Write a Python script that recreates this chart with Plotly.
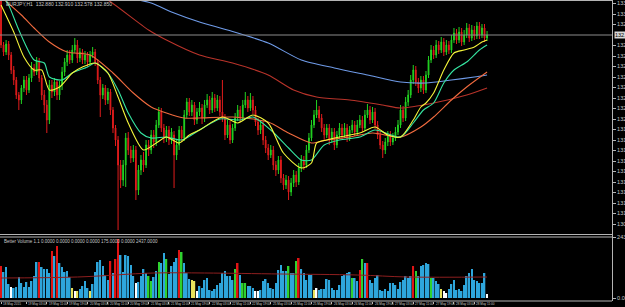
import plotly.graph_objects as go

# ---------------- data ----------------
symbol_title = "EURJPY,H1  132.880 132.910 132.578 132.850"
volume_title = "Better Volume 1.1 0.0000 0.0000 0.0000 0.0000 175.0000 0.0000 2437.0000"

open_ = [133.22,132.75,132.68,132.76,132.65,132.50,132.40,132.25,132.20,132.32,
 132.40,132.30,132.42,132.52,132.48,132.58,132.42,132.25,132.15,132.00,
 132.35,132.28,132.38,132.25,132.35,132.48,132.58,132.65,132.60,132.70,
 132.75,132.62,132.68,132.60,132.65,132.58,132.65,132.68,132.58,132.40,
 132.25,132.32,132.20,132.28,132.10,131.92,131.80,131.55,131.40,131.55,
 131.82,131.70,131.62,131.70,131.30,131.50,131.60,131.55,131.75,131.70,
 131.85,131.78,131.95,132.08,131.92,131.82,131.90,131.80,131.85,131.65,
 131.75,131.90,131.82,132.05,132.18,132.08,132.15,132.00,132.08,132.12,
 132.02,132.15,132.20,132.10,132.22,132.12,132.20,132.08,132.02,131.85,
 131.95,131.80,131.92,132.02,132.10,132.02,132.15,132.20,132.12,132.20,
 132.10,131.98,131.90,131.95,131.80,131.72,131.65,131.70,131.55,131.50,
 131.60,131.42,131.35,131.40,131.28,131.37,131.45,131.38,131.52,131.60,
 131.55,131.70,131.82,131.95,132.05,132.10,132.02,131.92,131.85,131.92,
 131.80,131.88,131.75,131.85,131.92,131.85,131.92,131.82,131.90,131.95,
 131.88,131.95,132.00,131.92,132.05,132.10,132.00,132.08,131.95,131.85,
 131.75,131.70,131.78,131.85,131.78,131.82,131.88,131.95,132.10,132.02,
 132.18,132.25,132.40,132.50,132.38,132.32,132.40,132.30,132.45,132.60,
 132.70,132.65,132.75,132.70,132.78,132.68,132.75,132.70,132.80,132.87,
 132.80,132.88,132.78,132.85,132.92,132.82,132.90,132.84,132.94,132.85,
 132.92,132.82]

close = [132.75,132.68,132.76,132.65,132.50,132.40,132.25,132.20,132.32,132.40,
 132.30,132.42,132.52,132.48,132.58,132.42,132.25,132.15,132.00,132.35,
 132.28,132.38,132.25,132.35,132.48,132.58,132.65,132.60,132.70,132.75,
 132.62,132.68,132.60,132.65,132.58,132.65,132.68,132.58,132.40,132.25,
 132.32,132.20,132.28,132.10,131.92,131.80,131.55,131.40,131.55,131.82,
 131.70,131.62,131.70,131.30,131.50,131.60,131.55,131.75,131.70,131.85,
 131.78,131.95,132.08,131.92,131.82,131.90,131.80,131.88,131.65,131.75,
 131.90,131.82,132.05,132.18,132.08,132.15,132.00,132.08,132.12,132.02,
 132.15,132.20,132.10,132.22,132.12,132.20,132.08,132.02,131.85,131.95,
 131.80,131.92,132.02,132.10,132.02,132.15,132.20,132.12,132.20,132.10,
 131.98,131.90,131.95,131.80,131.72,131.65,131.70,131.55,131.50,131.60,
 131.42,131.35,131.40,131.28,131.37,131.45,131.38,131.52,131.60,131.55,
 131.70,131.82,131.95,132.05,132.10,132.02,131.92,131.85,131.92,131.80,
 131.88,131.75,131.85,131.92,131.85,131.92,131.82,131.90,131.95,131.88,
 131.95,132.00,131.92,132.05,132.10,132.00,132.08,131.95,131.85,131.75,
 131.70,131.78,131.85,131.78,131.82,131.88,131.95,132.10,132.02,132.18,
 132.25,132.40,132.50,132.38,132.32,132.40,132.30,132.45,132.60,132.70,
 132.65,132.75,132.70,132.78,132.68,132.75,132.70,132.80,132.87,132.80,
 132.88,132.78,132.85,132.92,132.82,132.90,132.84,132.94,132.85,132.92,
 132.82,132.85]

high = [133.25,132.78,132.80,132.79,132.68,132.54,132.43,132.28,132.35,132.44,
 132.44,132.46,132.58,132.56,132.63,132.62,132.45,132.30,132.20,132.40,
 132.40,132.42,132.41,132.39,132.53,132.62,132.70,132.70,132.75,132.82,
 132.80,132.72,132.71,132.69,132.68,132.69,132.73,132.71,132.61,132.43,
 132.36,132.35,132.32,132.31,132.13,131.95,131.84,131.60,131.60,131.87,
 131.88,131.74,131.75,131.74,131.55,131.65,131.68,131.80,131.80,131.90,
 131.90,132.00,132.13,132.12,131.96,131.94,131.94,131.92,131.89,131.80,
 131.94,131.94,132.10,132.22,132.22,132.20,132.18,132.12,132.18,132.16,
 132.20,132.26,132.24,132.28,132.26,132.25,132.24,132.40,132.06,132.00,
 131.99,131.96,132.07,132.15,132.14,132.20,132.28,132.24,132.27,132.24,
 132.14,132.02,132.00,131.99,131.84,131.76,131.75,131.74,131.59,131.64,
 131.64,131.46,131.45,131.44,131.42,131.50,131.49,131.57,131.65,131.64,
 131.75,131.87,132.00,132.10,132.20,132.14,132.06,131.96,131.96,131.96,
 131.92,131.92,131.89,131.97,131.96,131.97,131.96,131.94,132.00,131.99,
 132.00,132.05,132.04,132.10,132.16,132.14,132.13,132.12,131.99,131.89,
 131.79,131.82,131.89,131.89,131.87,131.93,132.00,132.15,132.14,132.23,
 132.30,132.45,132.55,132.54,132.42,132.44,132.44,132.49,132.64,132.75,
 132.74,132.80,132.79,132.83,132.82,132.80,132.79,132.85,132.92,132.91,
 132.93,132.92,132.90,132.97,132.96,132.95,132.94,132.98,132.98,132.96,
 132.96,132.89]

low = [132.72,132.64,132.65,132.60,132.46,132.35,132.21,132.10,132.16,132.28,
 132.25,132.27,132.38,132.44,132.45,132.38,132.20,132.07,131.87,131.96,
 132.22,132.24,132.20,132.20,132.30,132.44,132.54,132.56,132.57,132.67,
 132.57,132.58,132.56,132.56,132.53,132.55,132.62,132.54,132.36,132.03,
 132.21,132.15,132.16,132.05,131.87,131.74,130.90,131.32,131.34,131.33,
 131.65,131.57,131.58,131.20,131.25,131.45,131.48,131.52,131.64,131.66,
 131.72,131.74,131.92,131.88,131.77,131.78,131.75,131.76,131.32,131.60,
 131.70,131.78,131.79,132.02,132.04,132.04,131.95,131.96,132.04,131.96,
 131.98,132.12,132.06,132.07,132.08,132.09,132.04,131.98,131.80,131.82,
 131.76,131.77,131.89,131.99,131.98,131.99,132.12,132.08,132.09,132.06,
 131.94,131.85,131.86,131.75,131.67,131.60,131.62,131.50,131.44,131.46,
 131.37,131.30,131.31,131.20,131.24,131.33,131.33,131.35,131.48,131.50,
 131.52,131.67,131.79,131.92,132.02,131.98,131.88,131.80,131.82,131.75,
 131.77,131.70,131.72,131.82,131.81,131.82,131.78,131.79,131.87,131.84,
 131.85,131.92,131.88,131.89,132.02,131.96,131.97,131.91,131.81,131.71,
 131.62,131.66,131.74,131.74,131.75,131.79,131.85,131.92,131.98,131.99,
 132.14,132.22,132.36,132.34,132.27,132.28,132.26,132.27,132.42,132.57,
 132.61,132.62,132.66,132.67,132.64,132.65,132.66,132.67,132.77,132.76,
 132.77,132.74,132.75,132.82,132.78,132.79,132.80,132.81,132.81,132.82,
 132.78,132.79]

# moving averages read at sparse bars (bar index, price)
ma_fast_idx = [0,5,9,13,16,19,23,28,32,37,42,46,50,56,61,65,70,74,78,87,93,99,105,111,118,122,124,128,133,141,147,152,157,162,165,167,170,174,178,182,186,189,191]
ma_fast = [133.15,132.88,132.63,132.50,132.50,132.30,132.33,132.47,132.53,132.57,132.47,132.23,131.97,131.70,131.77,131.83,131.77,131.85,131.90,132.03,131.97,132.05,131.97,131.67,131.52,131.57,131.77,131.80,131.83,131.87,131.93,131.85,131.83,132.00,132.13,132.17,132.27,132.50,132.67,132.70,132.73,132.78,132.80]

ma_mid_idx = [0,3,7,13,17,19,24,28,34,37,42,46,50,55,59,65,71,78,86,94,99,106,113,118,122,127,133,141,147,157,162,166,170,174,178,183,188,191]
ma_mid = [133.28,133.15,132.90,132.60,132.57,132.43,132.40,132.47,132.53,132.57,132.47,132.30,132.07,131.87,131.82,131.83,131.80,131.90,132.01,132.00,132.03,131.90,131.72,131.60,131.60,131.75,131.80,131.83,131.90,131.83,131.97,132.10,132.17,132.37,132.50,132.58,132.70,132.75]

ma_slow_idx = [0,8,13,19,26,35,44,52,59,65,72,78,91,105,113,122,128,137,146,157,165,170,177,183,191]
ma_slow = [133.23,133.05,132.92,132.78,132.68,132.65,132.47,132.27,132.13,132.07,132.02,132.02,132.03,131.98,131.87,131.77,131.80,131.83,131.87,131.83,131.93,132.03,132.20,132.33,132.48]

ma_long_idx = [31,42,58,65,78,91,105,115,124,137,150,157,170,183,191]
ma_long = [133.35,133.20,132.90,132.80,132.65,132.57,132.45,132.30,132.23,132.20,132.15,132.12,132.17,132.25,132.32]

ma_200_idx = [43,59,67,78,89,105,118,131,144,157,167,177,186,191]
ma_200 = [133.25,133.17,133.08,132.98,132.90,132.77,132.60,132.52,132.45,132.38,132.37,132.40,132.43,132.45]

current_price = 132.850

volume = [1280,1040,1240,560,440,400,440,840,600,440,
 640,440,680,880,1440,1440,1240,1160,1160,1000,
 1880,1680,2080,1400,1240,1040,1080,840,400,280,
 280,360,480,680,400,280,560,1040,1440,1520,
 1280,920,720,1480,1000,1560,2360,1720,1040,1720,
 1680,1320,880,600,640,880,1160,1000,880,680,
 840,1080,1440,1400,1800,1560,960,1280,1440,1600,
 1920,1840,1400,1000,760,720,680,280,480,400,
 720,800,320,280,360,520,600,1000,1080,880,
 880,720,1160,1400,920,600,600,480,480,400,
 280,280,320,680,760,600,400,360,600,1120,
 1320,1080,1080,1280,1000,1000,1480,1600,1160,1000,
 720,920,920,320,400,320,360,360,760,720,
 400,320,320,520,880,920,1000,1040,800,800,
 680,1120,1560,1400,1400,720,600,800,920,320,
 280,360,280,600,600,520,360,640,720,880,
 800,880,1280,1080,880,1280,1320,1400,1360,800,
 800,680,560,360,280,200,360,560,720,320,
 360,280,520,880,1000,1160,720,680,600,600,
 1000,160]

# Better Volume bar classes: b=normal, r=climax, g=churn, y=low volume, w=very low
volume_class = ("rbbbwbbbbb" "bbbbbrbbbb" "rbrbbbbbyw" "ybbbbybbbb" "bbbrbrrbbb"
                "bbbwbbbbgg" "bbgbbgbbbb" "rgbbbyywbb" "bbbbbbbbbb" "bbgrbggbbb"
                "wwbbbbbbbb" "bbbgbbgrbb" "bbbywbbbbb" "bbbbbbbbgb" "brgbrbbbbb"
                "bbbbbbbbbb" "bbrgbbbbbg" "bbbywwbbbb" "bbbbbbbbbb" "bw")

vol_avg_idx = [0,30,60,80,110,140,160,191]
vol_avg = [800,840,1000,1000,960,920,840,840]

time_label_idx = [0,10,18,26,34,42,50,58,66,74,82,90,98,106,114,122,130,138,146,154,162,170,178,186]
time_labels = ["18 May 2015","19 May 03:00","19 May 11:00","19 May 19:00","20 May 03:00","20 May 11:00",
               "20 May 19:00","21 May 03:00","21 May 11:00","21 May 19:00","22 May 03:00","22 May 11:00",
               "22 May 19:00","25 May 03:00","25 May 11:00","25 May 19:00","26 May 03:00","26 May 11:00",
               "26 May 19:00","27 May 03:00","27 May 11:00","27 May 19:00","28 May 03:00","28 May 11:00"]

price_ticks = [133.165,133.060,132.955,132.745,132.640,132.535,132.430,132.325,132.220,132.115,
               132.010,131.905,131.800,131.695,131.590,131.485,131.380,131.275,131.170,131.065,130.960]

# ---------------- styling / layout ----------------
W, H = 625, 307
PLOT_R = 612          # px, right border of chart
MAIN_BOT = 234.5      # px
VOL_TOP, VOL_BOT = 237.0, 301.0
FONT = "Liberation Sans"
TXT = "#c8c8c8"
BORDER = "#b4b4b4"

def py(px):
    return 1 - px / H

bars = list(range(len(close)))
class_colors = {"b": "#2ea6dc", "r": "#e01414", "g": "#2fd12f", "y": "#e8e25a", "w": "#ffffff"}
vol_colors = [class_colors[c] for c in volume_class]

fig = go.Figure()

fig.add_trace(go.Candlestick(
    x=bars, open=open_, high=high, low=low, close=close,
    increasing=dict(line=dict(color="#22d322", width=1), fillcolor="#22d322"),
    decreasing=dict(line=dict(color="#e01c1c", width=1), fillcolor="#e01c1c"),
    whiskerwidth=0, xaxis="x", yaxis="y", hoverinfo="skip", showlegend=False))

for idx, vals, col in [
    (ma_200_idx, ma_200, "#6f9be8"),
    (ma_long_idx, ma_long, "#b8332a"),
    (ma_slow_idx, ma_slow, "#ef6a3e"),
    (ma_mid_idx, ma_mid, "#35e3a0"),
    (ma_fast_idx, ma_fast, "#f5f53a"),
]:
    fig.add_trace(go.Scatter(x=idx, y=vals, mode="lines",
                             line=dict(color=col, width=1.1, shape="spline", smoothing=0.7),
                             xaxis="x", yaxis="y", hoverinfo="skip", showlegend=False))

fig.add_trace(go.Bar(x=bars, y=volume, marker=dict(color=vol_colors, line=dict(width=0)),
                     width=0.62, xaxis="x2", yaxis="y2", hoverinfo="skip", showlegend=False))
fig.add_trace(go.Scatter(x=vol_avg_idx, y=vol_avg, mode="lines",
                         line=dict(color="#8e1f1f", width=1, shape="spline"),
                         xaxis="x2", yaxis="y2", hoverinfo="skip", showlegend=False))

xr = [-0.4, 240.1]
xdom = [0, PLOT_R / W]

shapes = [
    dict(type="line", xref="paper", x0=0, x1=PLOT_R / W, yref="y", y0=current_price, y1=current_price,
         line=dict(color="#8c8c8c", width=1)),
    dict(type="line", xref="paper", yref="paper", x0=0, x1=PLOT_R / W, y0=py(0.5), y1=py(0.5),
         line=dict(color=BORDER, width=1)),
    dict(type="line", xref="paper", yref="paper", x0=0, x1=PLOT_R / W, y0=py(MAIN_BOT), y1=py(MAIN_BOT),
         line=dict(color=BORDER, width=1)),
    dict(type="line", xref="paper", yref="paper", x0=0, x1=PLOT_R / W, y0=py(VOL_TOP), y1=py(VOL_TOP),
         line=dict(color=BORDER, width=1)),
    dict(type="line", xref="paper", yref="paper", x0=0, x1=PLOT_R / W, y0=py(VOL_BOT), y1=py(VOL_BOT),
         line=dict(color=BORDER, width=1)),
    dict(type="line", xref="paper", yref="paper", x0=(PLOT_R + 0.5) / W, x1=(PLOT_R + 0.5) / W,
         y0=py(0), y1=py(VOL_BOT), line=dict(color=BORDER, width=1)),
]

annotations = [
    dict(text=symbol_title, xref="paper", yref="paper", x=4 / W, y=py(3.5), xanchor="left", yanchor="middle",
         showarrow=False, font=dict(family=FONT, size=5, color=TXT)),
    dict(text=volume_title, xref="paper", yref="paper", x=2 / W, y=py(241), xanchor="left", yanchor="middle",
         showarrow=False, font=dict(family=FONT, size=4.5, color=TXT)),
    dict(text="%.3f" % current_price, xref="paper", yref="y", x=(PLOT_R + 2) / W, y=current_price,
         xanchor="left", yanchor="middle", showarrow=False, bgcolor="#d8d8d8",
         font=dict(family=FONT, size=5.5, color="#000000"), borderpad=0),
]
for i, t in zip(time_label_idx, time_labels):
    annotations.append(dict(text=t, xref="x2", yref="paper", x=i, y=py(304.3), xanchor="left",
                            yanchor="middle", showarrow=False,
                            font=dict(family=FONT, size=3.1, color=TXT)))

fig.update_layout(
    width=W, height=H, margin=dict(l=0, r=0, t=0, b=0, autoexpand=False),
    paper_bgcolor="#000000", plot_bgcolor="#000000",
    showlegend=False, hovermode=False, boxgap=0.55,
    xaxis=dict(domain=xdom, range=xr, anchor="y", showgrid=False, zeroline=False, automargin=False,
               showticklabels=False, ticks="", rangeslider=dict(visible=False), fixedrange=True),
    yaxis=dict(domain=[py(MAIN_BOT), 1], range=[133.2 - MAIN_BOT / 100, 133.2], side="right",
               anchor="x", showgrid=False, zeroline=False, automargin=False,
               tickvals=price_ticks, ticktext=["%.3f" % v for v in price_ticks],
               ticks="outside", ticklen=3, tickcolor=BORDER,
               tickfont=dict(family=FONT, size=5.5, color=TXT)),
    xaxis2=dict(domain=xdom, range=xr, anchor="y2", showgrid=False, zeroline=False, automargin=False,
                showticklabels=False, tickvals=time_label_idx, ticks="outside", ticklen=2,
                tickcolor=BORDER),
    yaxis2=dict(domain=[py(VOL_BOT), py(VOL_TOP)], range=[-120, 2440], side="right",
                anchor="x2", showgrid=False, zeroline=False, automargin=False,
                tickvals=[2437, 0], ticktext=["2437.0", "0.00"],
                ticks="outside", ticklen=3, tickcolor=BORDER,
                tickfont=dict(family=FONT, size=5.5, color=TXT)),
    shapes=shapes, annotations=annotations,
)

fig.write_html("out.html")
